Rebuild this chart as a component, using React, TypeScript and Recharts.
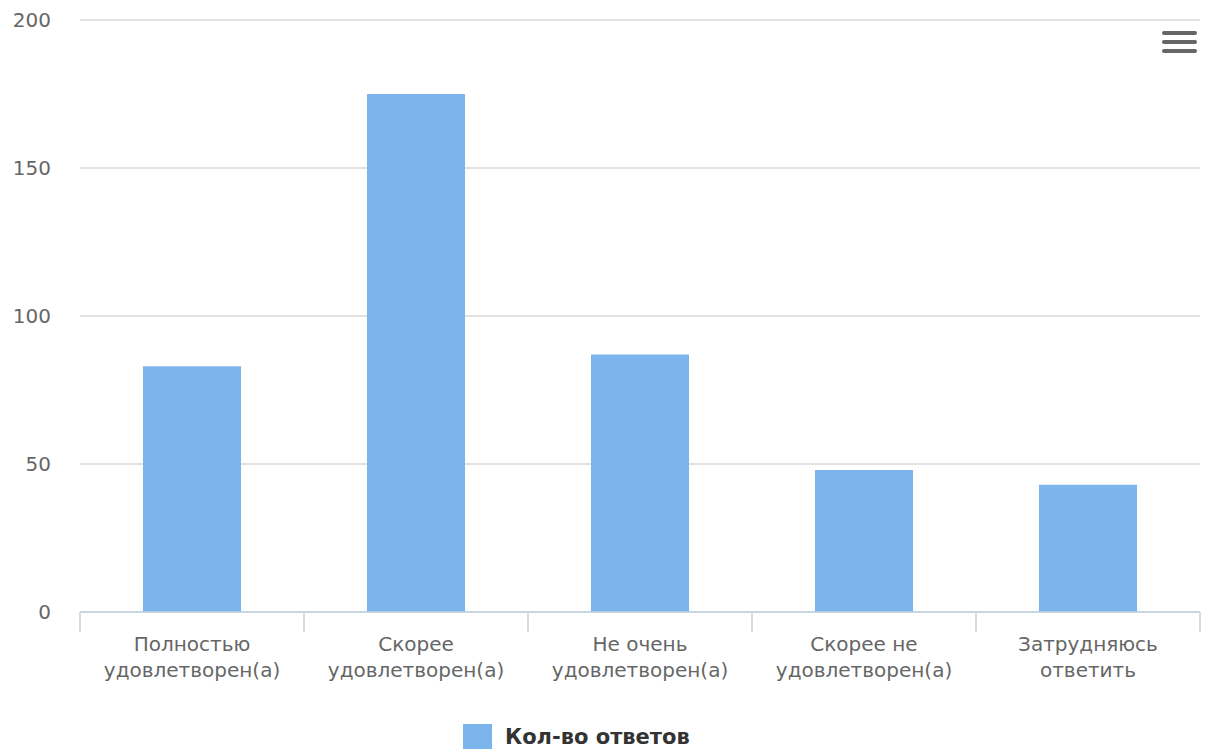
import { BarChart, Bar, XAxis, YAxis, CartesianGrid, Legend, Text } from 'recharts';

// survey answers, counts
const categories = [
    'Полностью удовлетворен(а)',
    'Скорее удовлетворен(а)',
    'Не очень удовлетворен(а)',
    'Скорее не удовлетворен(а)',
    'Затрудняюсь ответить',
];
const answers = [83, 175, 87, 48, 43];
const seriesName = 'Кол-во ответов';
const yTicks = [0, 50, 100, 150, 200];

const BAR_COLOR = '#7cb5ec';
const AXIS_COLOR = '#c0d0e0';
const FONT = '"DejaVu Sans", Verdana, sans-serif';

const data = categories.map((name, i) => ({ name, value: answers[i] }));

// label plus the tick marks on the category borders (Highcharts style)
function CategoryTick(props: any) {
    const { x, y, payload, index, visibleTicksCount } = props;
    const half = payload.offset || 0;
    const top = y - 8;
    return (
        <g>
            <line x1={x - half} x2={x - half} y1={top} y2={top + 20} stroke={AXIS_COLOR} strokeWidth={1.5} />
            {index === visibleTicksCount - 1 && (
                <line x1={x + half} x2={x + half} y1={top} y2={top + 20} stroke={AXIS_COLOR} strokeWidth={1.5} />
            )}
            <Text
                x={x}
                y={y + 17}
                width={172}
                textAnchor="middle"
                verticalAnchor="start"
                lineHeight={26}
                fill="#666666"
                fontSize={20}
                fontFamily={FONT}
                style={{ fontFamily: FONT, fontSize: 20 }}
            >
                {payload.value}
            </Text>
        </g>
    );
}

function LegendContent() {
    return (
        <div style={{ height: 43, position: 'relative' }}>
            <div style={{ position: 'absolute', left: 463, top: 12, display: 'flex', alignItems: 'center' }}>
                <span style={{ width: 29, height: 25, background: BAR_COLOR, display: 'inline-block' }} />
                <span style={{ marginLeft: 13, fontFamily: FONT, fontSize: 21, fontWeight: 'bold', color: '#333333' }}>
                    {seriesName}
                </span>
            </div>
        </div>
    );
}

export default function App() {
    return (
        <div style={{ position: 'absolute', left: 0, top: 0, width: 1205, height: 755, background: '#fff' }}>
            <BarChart
                width={1205}
                height={755}
                data={data}
                margin={{ top: 20, right: 5, bottom: 0, left: 0 }}
                barSize={98}
            >
                <CartesianGrid vertical={false} stroke="#d8d8d8" strokeWidth={1.5} />
                <XAxis
                    dataKey="name"
                    height={100}
                    interval={0}
                    tick={<CategoryTick />}
                    tickLine={false}
                    axisLine={{ stroke: AXIS_COLOR, strokeWidth: 1.5 }}
                />
                <YAxis
                    domain={[0, 200]}
                    ticks={yTicks}
                    width={80}
                    tickSize={0}
                    tickMargin={29}
                    axisLine={false}
                    tickLine={false}
                    tick={{ fill: '#666666', fontSize: 20, fontFamily: FONT }}
                />
                <Bar dataKey="value" name={seriesName} fill={BAR_COLOR} isAnimationActive={false} />
                <Legend verticalAlign="bottom" content={<LegendContent />} wrapperStyle={{ left: 0, width: 1205 }} />
            </BarChart>
            {/* export menu button */}
            <svg style={{ position: 'absolute', left: 1160, top: 28 }} width={40} height={30}>
                {[5, 14, 23].map((y) => (
                    <line key={y} x1={4} x2={35} y1={y} y2={y} stroke="#666666" strokeWidth={4} strokeLinecap="round" />
                ))}
            </svg>
        </div>
    );
}
